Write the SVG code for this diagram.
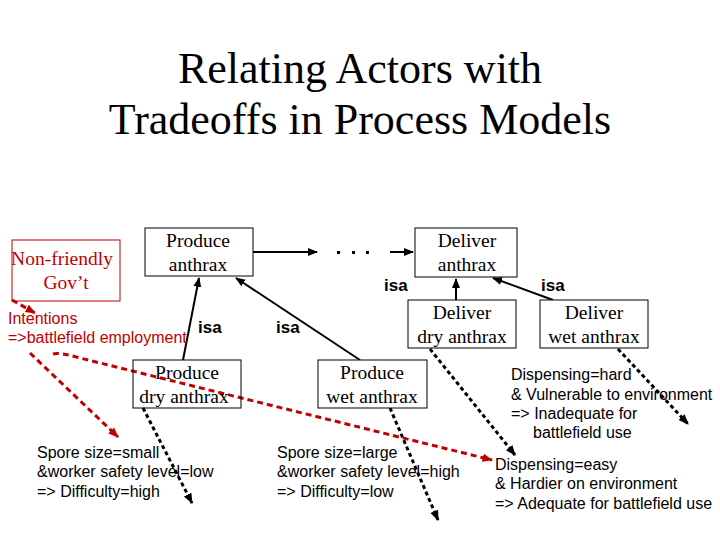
<svg xmlns="http://www.w3.org/2000/svg" width="720" height="540" viewBox="0 0 720 540">
<defs>
<style>
.title{font-family:"Liberation Serif","Times New Roman",serif;font-size:44px;fill:#000;text-anchor:middle}
.nt{font-family:"Liberation Serif","Times New Roman",serif;font-size:19.5px;fill:#000;text-anchor:middle}
.ntr{font-family:"Liberation Serif","Times New Roman",serif;font-size:19.5px;fill:#c00000;text-anchor:middle}
.box{fill:#fff;stroke:#000;stroke-width:1}
.rbox{fill:none;stroke:#c00000;stroke-width:1}
.lbl{font-family:"Liberation Sans",Arial,sans-serif;font-size:16px;fill:#000}
.lblr{font-family:"Liberation Sans",Arial,sans-serif;font-size:16px;fill:#c00000}
.isa{font-family:"Liberation Sans",Arial,sans-serif;font-size:17px;font-weight:bold;fill:#000}
.solid{stroke:#000;stroke-width:2;fill:none}
.bdot{stroke:#000;stroke-width:3;fill:none;stroke-dasharray:4 3}
.rdash{stroke:#c00000;stroke-width:3;fill:none;stroke-dasharray:6 4}
</style>
<marker id="ab" viewBox="0 0 10 10" refX="9" refY="5" markerWidth="5" markerHeight="5" orient="auto" markerUnits="strokeWidth"><path d="M0,1 L10,5 L0,9 z" fill="#000"/></marker>
<marker id="ab2" viewBox="0 0 10 10" refX="9" refY="5" markerWidth="3.5" markerHeight="3.5" orient="auto" markerUnits="strokeWidth"><path d="M0,1 L10,5 L0,9 z" fill="#000"/></marker>
<marker id="ar" viewBox="0 0 10 10" refX="9" refY="5" markerWidth="3.5" markerHeight="3.5" orient="auto" markerUnits="strokeWidth"><path d="M0,1 L10,5 L0,9 z" fill="#c00000"/></marker>
</defs>
<rect width="720" height="540" fill="#fff"/>
<g id="title">
<text class="title" x="360" y="83">Relating Actors with</text>
<text class="title" x="360" y="134">Tradeoffs in Process Models</text>
</g>
<g id="connectors">
<line class="solid" x1="253" y1="252" x2="317" y2="252" marker-end="url(#ab)"/>
<line class="solid" x1="390" y1="252" x2="413" y2="252" marker-end="url(#ab)"/>
<line class="solid" x1="183" y1="360" x2="199" y2="278" marker-end="url(#ab)"/>
<line class="solid" x1="360" y1="360" x2="236" y2="278" marker-end="url(#ab)"/>
<line class="solid" x1="456" y1="300" x2="456" y2="279" marker-end="url(#ab)"/>
<line class="solid" x1="553" y1="300" x2="493" y2="278" marker-end="url(#ab)"/>
<line class="bdot" x1="143" y1="408" x2="192" y2="503" marker-end="url(#ab2)"/>
<line class="bdot" x1="390" y1="408" x2="438" y2="520" marker-end="url(#ab2)"/>
<line class="bdot" x1="430" y1="349" x2="515" y2="455" marker-end="url(#ab2)"/>
<line class="bdot" x1="618" y1="349" x2="688" y2="424" marker-end="url(#ab2)"/>
<line class="rdash" x1="12" y1="300" x2="35" y2="313" marker-end="url(#ar)"/>
<line class="rdash" x1="30" y1="353" x2="118" y2="437" marker-end="url(#ar)"/>
<path class="rdash" d="M53,354 Q60,352 80,358 L492,460" marker-end="url(#ar)"/>
</g>
<g id="dots">
<rect x="337" y="251" width="3" height="3"/><rect x="352" y="251" width="3" height="3"/><rect x="366" y="251" width="3" height="3"/>
</g>
<g id="nonfriendly">
<rect class="rbox" x="12" y="240" width="108" height="61"/>
<text class="ntr" x="62" y="265">Non-friendly</text>
<text class="ntr" x="66" y="289">Gov’t</text>
</g>
<g id="produce-anthrax">
<rect class="box" x="145" y="228" width="108" height="48"/>
<text class="nt" x="198" y="247">Produce</text>
<text class="nt" x="198" y="271">anthrax</text>
</g>
<g id="deliver-anthrax">
<rect class="box" x="415" y="228" width="102" height="49"/>
<text class="nt" x="467" y="247">Deliver</text>
<text class="nt" x="467" y="271">anthrax</text>
</g>
<g id="deliver-dry">
<rect class="box" x="408" y="300" width="108" height="48"/>
<text class="nt" x="462" y="319">Deliver</text>
<text class="nt" x="462" y="343">dry anthrax</text>
</g>
<g id="deliver-wet">
<rect class="box" x="540" y="300" width="108" height="48"/>
<text class="nt" x="594" y="319">Deliver</text>
<text class="nt" x="594" y="343">wet anthrax</text>
</g>
<g id="produce-dry">
<rect class="box" x="133" y="360" width="108" height="48" style="fill:none"/>
<text class="nt" x="187" y="379">Produce</text>
<text class="nt" x="184" y="403">dry anthrax</text>
</g>
<g id="produce-wet">
<rect class="box" x="318" y="360" width="109" height="48"/>
<text class="nt" x="372" y="379">Produce</text>
<text class="nt" x="372" y="403">wet anthrax</text>
</g>
<g id="isa-labels">
<text class="isa" x="198" y="333">isa</text>
<text class="isa" x="276" y="333">isa</text>
<text class="isa" x="384" y="291">isa</text>
<text class="isa" x="541" y="291">isa</text>
</g>
<g id="intentions">
<text class="lblr" x="8" y="324">Intentions</text>
<text class="lblr" x="8" y="343">=&gt;battlefield employment</text>
</g>
<g id="notes">
<text class="lbl" x="37" y="458">Spore size=small</text>
<text class="lbl" x="37" y="477">&amp;worker safety level=low</text>
<text class="lbl" x="37" y="497">=&gt; Difficulty=high</text>
<text class="lbl" x="277" y="458">Spore size=large</text>
<text class="lbl" x="277" y="477">&amp;worker safety level=high</text>
<text class="lbl" x="277" y="497">=&gt; Difficulty=low</text>
<text class="lbl" x="511" y="380">Dispensing=hard</text>
<text class="lbl" x="511" y="400">&amp; Vulnerable to environment</text>
<text class="lbl" x="511" y="419">=&gt; Inadequate for</text>
<text class="lbl" x="533" y="438">battlefield use</text>
<text class="lbl" x="495" y="470">Dispensing=easy</text>
<text class="lbl" x="495" y="489">&amp; Hardier on environment</text>
<text class="lbl" x="495" y="509">=&gt; Adequate for battlefield use</text>
</g>
</svg>
